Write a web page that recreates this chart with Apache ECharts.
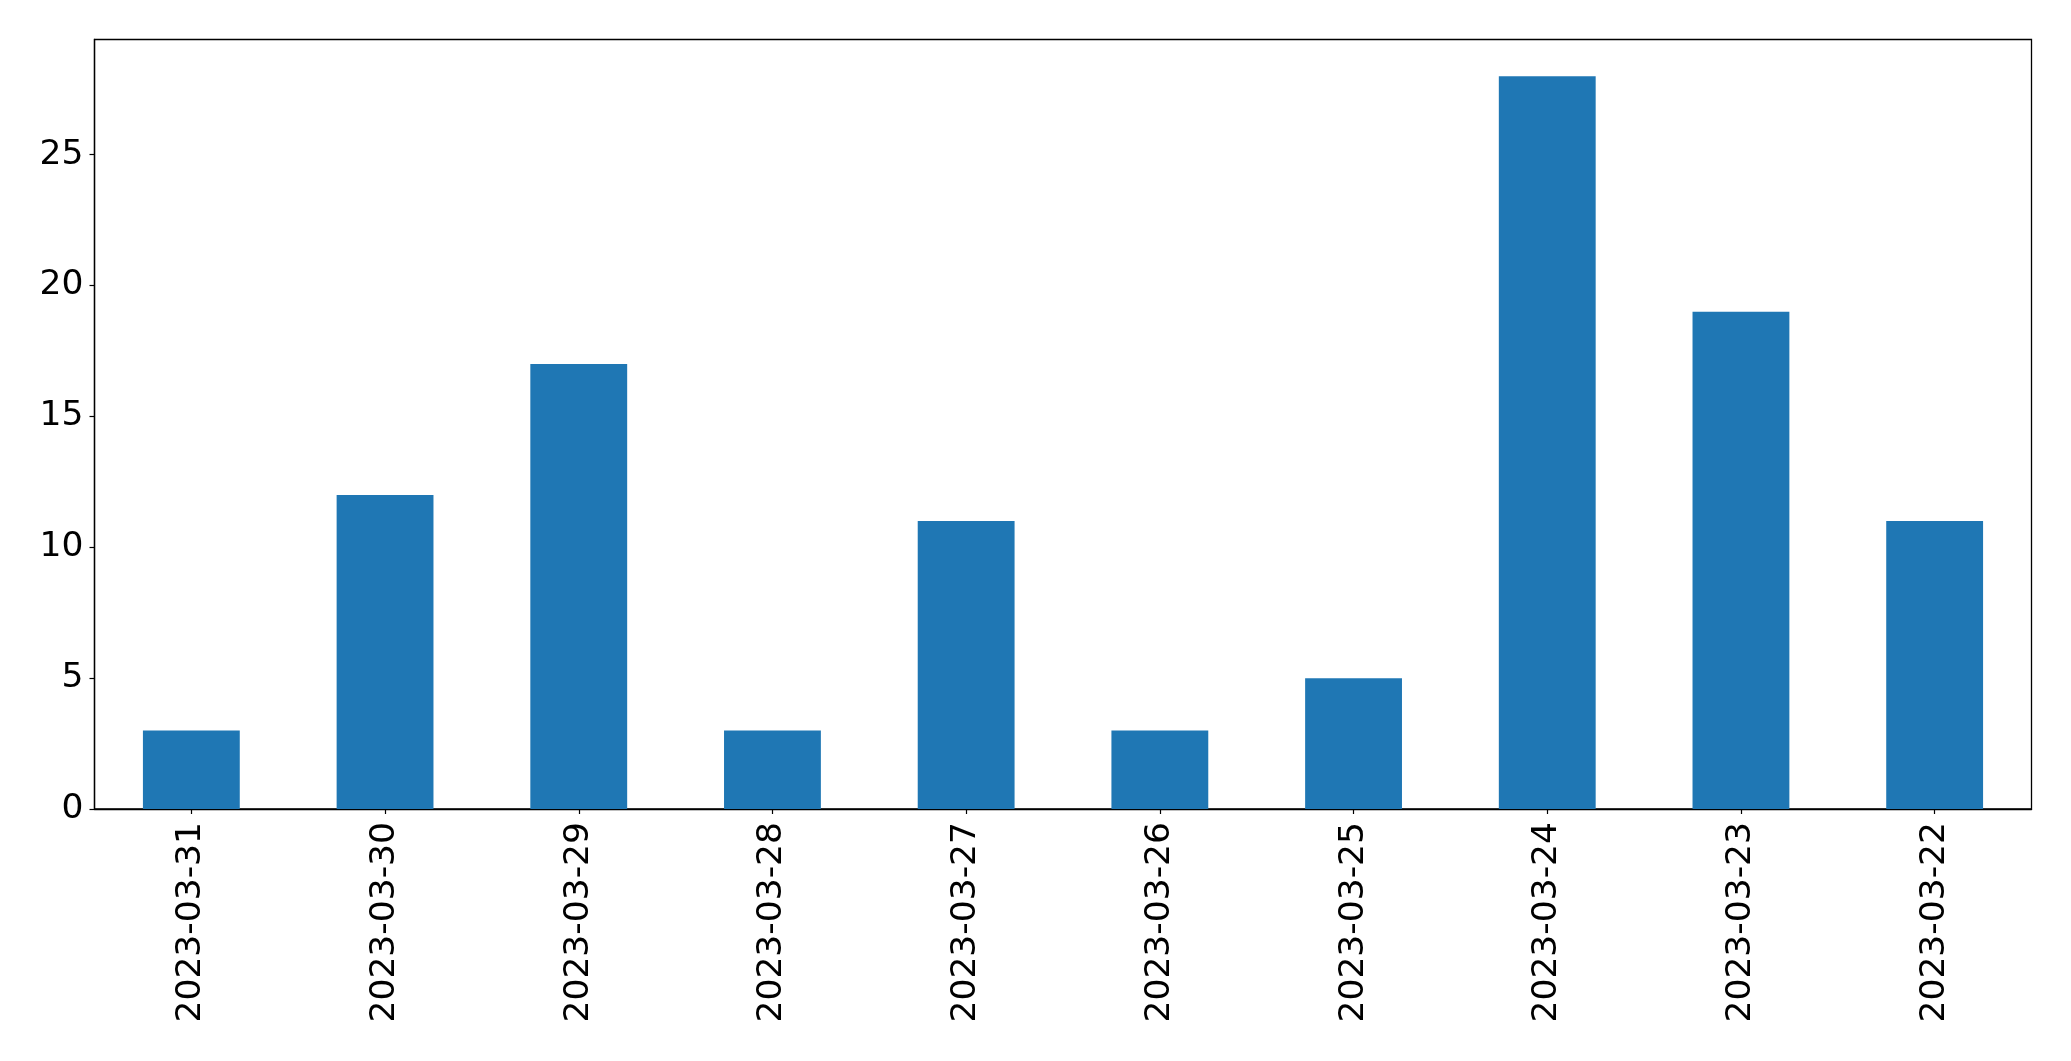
<!DOCTYPE html>
<html>
<head>
<meta charset="utf-8">
<script src="https://cdn.jsdelivr.net/npm/echarts@6/dist/echarts.min.js"></script>
<style>
html,body{margin:0;padding:0;background:#fff;}
#chart{width:2071px;height:1061px;}
</style>
</head>
<body>
<div id="chart"></div>
<script>
const categories = ["2023-03-31","2023-03-30","2023-03-29","2023-03-28","2023-03-27","2023-03-26","2023-03-25","2023-03-24","2023-03-23","2023-03-22"];
const values = [3, 12, 17, 3, 11, 3, 5, 28, 19, 11];
const yTicks = [0, 5, 10, 15, 20, 25];

const chart = echarts.init(document.getElementById('chart'));
const font = 'DejaVu Sans';
chart.setOption({
  animation: false,
  backgroundColor: '#ffffff',
  grid: {
    left: 94.5, top: 39.5, right: 39.5, bottom: 252,
    show: true, borderColor: '#000', borderWidth: 1.3, backgroundColor: 'transparent',
    containLabel: false
  },
  xAxis: {
    type: 'category',
    data: categories,
    boundaryGap: true,
    axisLine: { show: true, lineStyle: { color: '#000', width: 1.3 } },
    axisTick: { show: true, alignWithLabel: true, length: 5, lineStyle: { color: '#000', width: 1.2 } },
    axisLabel: { rotate: 90, fontSize: 34.5, fontFamily: font, color: '#000', margin: 13, interval: 0 },
    splitLine: { show: false }
  },
  yAxis: {
    type: 'value',
    min: 0, max: 29.4,
    interval: 5,
    axisLine: { show: true, lineStyle: { color: '#000', width: 1.3 } },
    axisTick: { show: true, length: 5, customValues: yTicks, lineStyle: { color: '#000', width: 1.2 } },
    axisLabel: { fontSize: 34.5, fontFamily: font, color: '#000', margin: 11, customValues: yTicks },
    splitLine: { show: false }
  },
  series: [{
    type: 'bar',
    data: values,
    barWidth: '50%',
    itemStyle: { color: '#1f77b4' }
  }]
});
</script>
</body>
</html>
